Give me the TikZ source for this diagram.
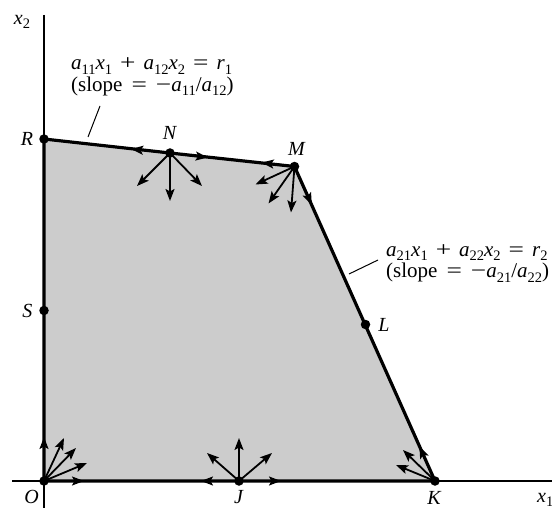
\documentclass[tikz,border=0pt]{standalone}
\usepackage{fontspec}
\usepackage{graphicx}
\setmainfont{Liberation Serif}
\usetikzlibrary{arrows.meta}
\newcommand{\vv}[2]{\textit{#1}\raisebox{-0.22em}{\fontsize{14.5}{14.5}\selectfont #2}}
\newcommand{\gap}{\hspace{8pt}}
\newcommand{\wgap}{\hspace{9pt}}
\newcommand{\wop}[1]{\scalebox{1.3}[1]{#1}}
\begin{document}
\begin{tikzpicture}[x=1pt,y=-1pt,
  txt/.style={font=\fontsize{20}{21.5}\selectfont, inner sep=0pt},
  eq/.style={font=\fontsize{21}{21.5}\selectfont, inner sep=0pt},
  edge/.style={line width=3.2pt},
  axis/.style={line width=1.2pt},
  ray/.style={line width=1.8pt, -{Stealth[length=12pt,width=9pt,inset=2.5pt]}},
  dot/.style={circle, fill=black, inner sep=0pt, minimum size=9.5pt},
  leader/.style={line width=1pt}]
\useasboundingbox (0,0) rectangle (552,508);
% axes ends
\coordinate (ytop) at (44,15);
\coordinate (ybot) at (44,508);
\coordinate (xl) at (12,481);
\coordinate (xr) at (552,481);
% vertices
\coordinate (O) at (44,481);
\coordinate (J) at (239,481);
\coordinate (K) at (435,481);
\coordinate (L) at (365.5,324.5);
\coordinate (M) at (294.5,166.5);
\coordinate (N) at (170,153);
\coordinate (R) at (44,139);
\coordinate (S) at (44,310.5);
% region
\fill[gray!40] (O) -- (R) -- (N) -- (M) -- (K) -- cycle;
\draw[axis] (ytop) -- (ybot);
\draw[axis] (xl) -- (xr);
\draw[edge] (O) -- (R) -- (N) -- (M) -- (K) -- cycle;
% rays at O
\draw[ray] (O) -- ++(0,-44);
\draw[ray] (O) -- ++(40,0);
\draw[ray] (O) -- ++(20,-43);
\draw[ray] (O) -- ++(32,-33);
\draw[ray] (O) -- ++(43,-18);
% rays at J
\draw[ray] (J) -- ++(0,-43);
\draw[ray] (J) -- ++(-32,-28);
\draw[ray] (J) -- ++(33,-28);
\draw[ray] (J) -- ++(-38,0);
\draw[ray] (J) -- ++(42,0);
% rays at K
\draw[ray] (K) -- ++(-15.6,-34.6);
\draw[ray] (K) -- ++(-32,-31);
\draw[ray] (K) -- ++(-39,-16);
% rays at N
\draw[ray] (N) -- ++(0,48);
\draw[ray] (N) -- ++(-33,33);
\draw[ray] (N) -- ++(32,33);
\draw[ray] (N) -- ++(-38.8,-4);
\draw[ray] (N) -- ++(37.7,4.5);
% rays at M
\draw[ray] (M) -- ++(-39,18);
\draw[ray] (M) -- ++(-26,37);
\draw[ray] (M) -- ++(-3.5,46);
\draw[ray] (M) -- ++(-32.8,-3.9);
\draw[ray] (M) -- ++(17.3,38.3);
% dots
\foreach \p in {O,J,K,L,M,N,R,S} \node[dot] (d\p) at (\p) {};
% point labels
\node[txt] (lO) at (31.5,497) {\textit{O}};
\node[txt] (lJ) at (239,497.5) {\textit{J}};
\node[txt] (lK) at (434.5,498) {\textit{K}};
\node[txt] (lL) at (384,325) {\textit{L}};
\node[txt] (lM) at (297,149) {\textit{M}};
\node[txt] (lN) at (170,133) {\textit{N}};
\node[txt] (lR) at (27,139) {\textit{R}};
\node[txt] (lS) at (27.5,310.5) {\textit{S}};
\node[txt] (lx2) at (22,22) {\vv{x}{2}};
\node[txt, anchor=west] (lx1) at (537,500) {\vv{x}{1}};
% constraint labels
\node[eq, anchor=west, align=left] (c1) at (71,77)
  {\vv{a}{11}\vv{x}{1}\gap\wop{+}\gap\vv{a}{12}\vv{x}{2}\gap\wop{=}\gap\vv{r}{1}\\(slope\wgap\wop{=}\wgap\wop{−}\vv{a}{11}/\vv{a}{12})};
\node[eq, anchor=west, align=left] (c2) at (386,263.5)
  {\vv{a}{21}\vv{x}{1}\gap\wop{+}\gap\vv{a}{22}\vv{x}{2}\gap\wop{=}\gap\vv{r}{2}\\(slope\wgap\wop{=}\wgap\wop{−}\vv{a}{21}/\vv{a}{22})};
\coordinate (l1a) at (100,106);
\coordinate (l1b) at (88,137);
\coordinate (l2a) at (378,260);
\coordinate (l2b) at (349,274);
\draw[leader] (l1a) -- (l1b);
\draw[leader] (l2a) -- (l2b);
\end{tikzpicture}
\end{document}
